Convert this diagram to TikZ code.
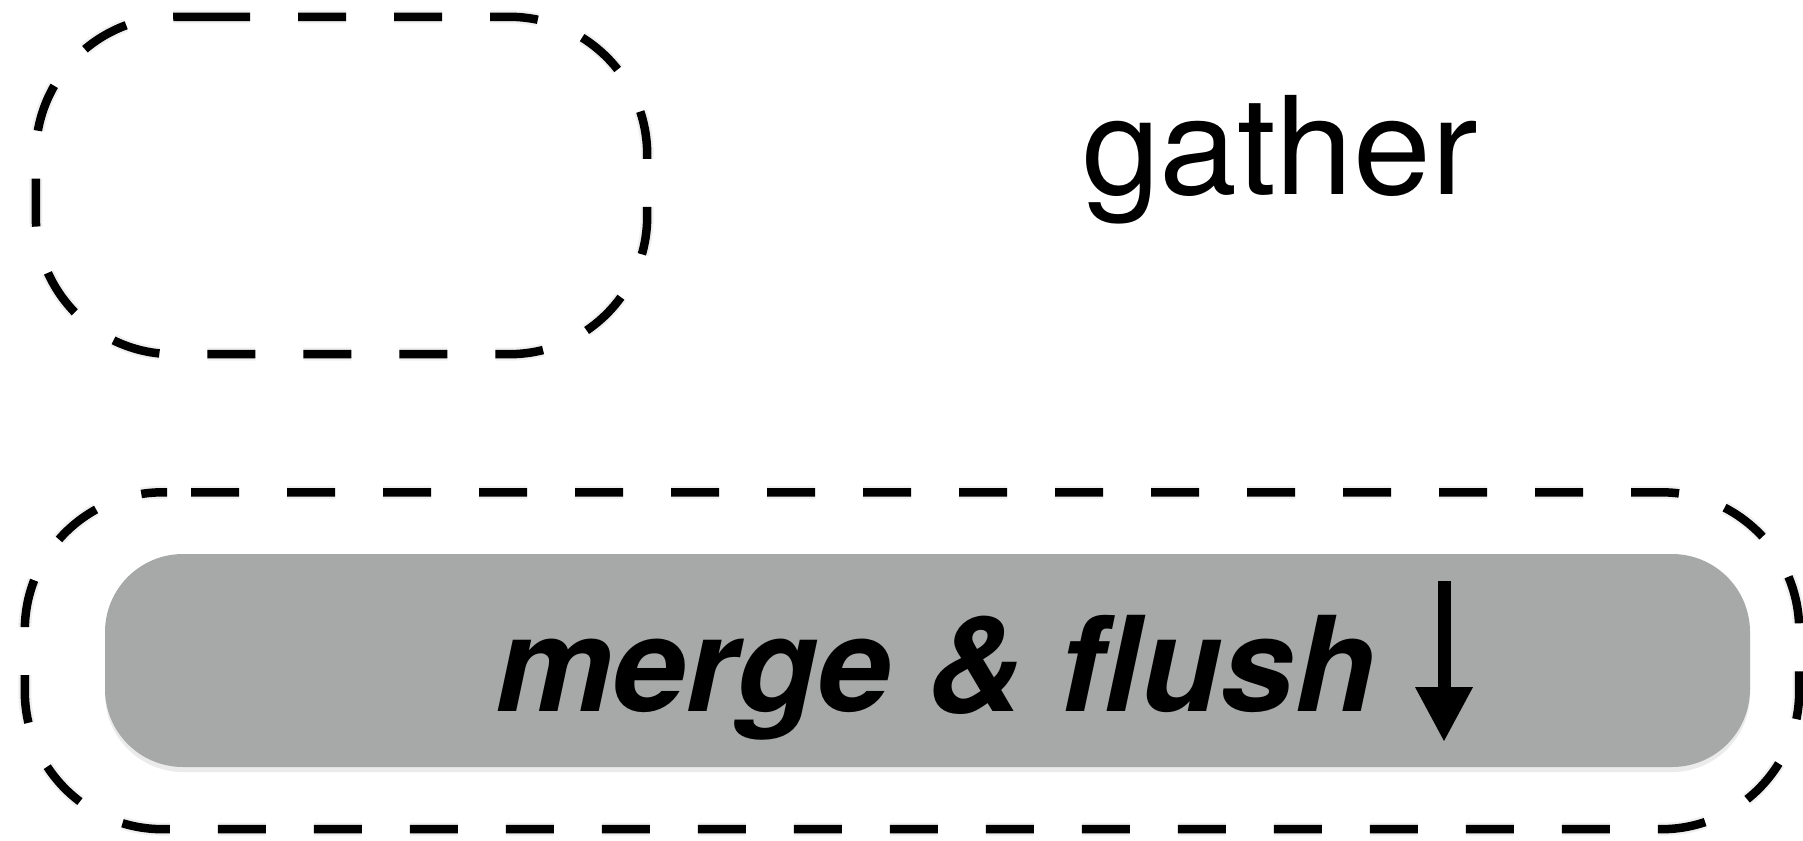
\documentclass[tikz,border=0pt]{standalone}
\usepackage{fontspec}
\setmainfont{TeX Gyre Heros}
\newfontfamily\gatherfont[FakeStretch=1.03]{TeX Gyre Heros}
\usetikzlibrary{arrows.meta,shadows}
\definecolor{boxgray}{RGB}{166,169,168}
\begin{document}
\begin{tikzpicture}[x=1pt,y=-1pt,
  frame/.style={draw=none, inner sep=0pt},
  dashline/.style={draw=black, line width=8.5pt, dash pattern=on 48pt off 48pt, rounded corners=138pt},
  dashshadow/.style={draw=black!6, line width=13pt, dash pattern=on 48pt off 48pt, rounded corners=138pt},
  graybox/.style={fill=boxgray, draw=none, rounded corners=78pt, inner sep=0pt,
    drop shadow={shadow xshift=0pt, shadow yshift=-5pt, fill=black, opacity=0.08}},
  lbl/.style={inner sep=0pt, anchor=base},
  flowarrow/.style={line width=13pt, -{Triangle[width=54pt,length=55pt]}}]
\useasboundingbox (0,0) rectangle (1803,840);
% gather frame
\node[frame, minimum width=611pt, minimum height=337pt] (gatherbox) at (341.5,185.5) {};
\coordinate (gstart) at ([xshift=-139.5pt]gatherbox.north);
\draw[dashshadow, yshift=-3pt] (gstart) -- (gatherbox.north east) -- (gatherbox.south east) -- (gatherbox.south west) -- (gatherbox.north west) -- (gstart);
\draw[dashline] (gstart) -- (gatherbox.north east) -- (gatherbox.south east) -- (gatherbox.south west) -- (gatherbox.north west) -- (gstart);
\node[lbl, font=\gatherfont\fontsize{136}{150}\selectfont] (gather) at (1280,194) {gather};
% merge frame
\node[frame, minimum width=1774pt, minimum height=336.5pt] (mergeouter) at (912,660.75) {};
\coordinate (mstart) at ([xshift=-745pt]mergeouter.north);
\draw[dashshadow, dash phase=72pt, yshift=-3pt] (mstart) -- (mergeouter.north east) -- (mergeouter.south east) -- (mergeouter.south west) -- (mergeouter.north west) -- (mstart);
\draw[dashline, dash phase=72pt] (mstart) -- (mergeouter.north east) -- (mergeouter.south east) -- (mergeouter.south west) -- (mergeouter.north west) -- (mstart);
\node[graybox, minimum width=1645pt, minimum height=213pt] (mergebox) at (927.5,660.5) {};
\node[lbl, font=\fontsize{132}{150}\selectfont\bfseries\itshape] (mergelbl) at (935,711) {merge \& flush};
\coordinate (arrtop) at (1444,581);
\coordinate (arrtip) at (1444,742);
\draw[flowarrow] (arrtop) -- (arrtip);
\end{tikzpicture}
\end{document}
